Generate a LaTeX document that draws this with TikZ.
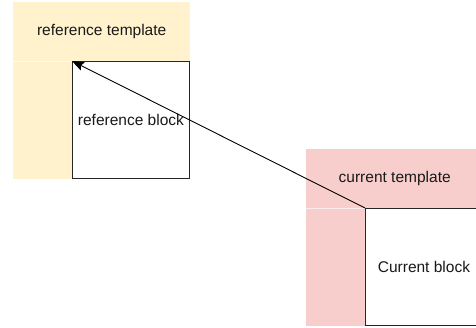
\documentclass[tikz,border=0pt]{standalone}
\usepackage{fontspec}
\setmainfont{Liberation Sans}
\usetikzlibrary{positioning, arrows.meta}
\definecolor{refyellow}{HTML}{FFF2CC}
\definecolor{curpink}{HTML}{F8CECC}
\tikzset{template/.style = {draw=none, minimum width=177pt, minimum height=177pt, inner sep=0pt, anchor=north west},
         header/.style = {minimum width=177pt, minimum height=59pt, inner sep=0pt, anchor=north west},
         block/.style = {draw=black!85, fill=white, line width=0.9pt, minimum width=117pt, minimum height=117pt, inner sep=0pt, anchor=north west},
         label/.style = {font=\fontsize{15.5}{18}\selectfont, text=black!90}}

\begin{document}
\begin{tikzpicture}[x=1pt, y=-1pt]
        \clip (0,0) rectangle (476,328);
        \fill [white] (0,0) rectangle (476,328);
        % reference side
        \node [template, fill=refyellow] (reftmpl) at (13,2) {};
        \node [header, label] (refhead) at (13,2) {reference template};
        \draw [white!60!refyellow] (refhead.south west) -- (refhead.south east);
        \node [block, label] (refblock) at (72,61) {reference block};
        % current side
        \node [template, fill=curpink] (curtmpl) at (306,149) {};
        \node [header, label] (curhead) at (306,149) {current template};
        \draw [white!60!curpink] (curhead.south west) -- (curhead.south east);
        \node [block, label] (curblock) at (365,208) {Current block};
        \draw [-{Stealth[length=12pt, width=9pt, inset=2pt]}, line width=0.9pt] (curblock.north west) -- (refblock.north west);
    \end{tikzpicture}
\end{document}
